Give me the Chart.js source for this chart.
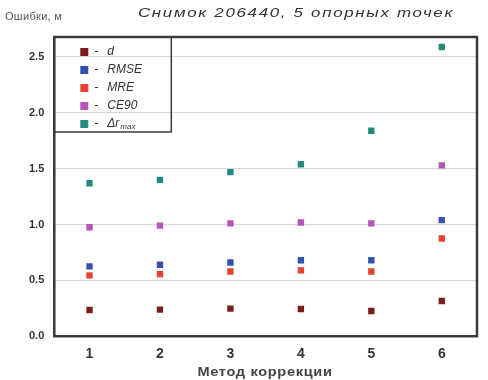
<!DOCTYPE html>
<html>
<head>
<meta charset="utf-8">
<script src="https://cdn.jsdelivr.net/npm/chart.js@4"></script>
<style>
  html, body { margin: 0; padding: 0; background: #fff; }
  canvas { display: block; }
</style>
</head>
<body>
<canvas id="errors" width="488" height="380"></canvas>
<script>
const methods = ['1', '2', '3', '4', '5', '6'];
const seriesNames = ['d', 'RMSE', 'MRE', 'CE90', 'Δr_max'];
const dValues = [0.235, 0.238, 0.247, 0.244, 0.226, 0.315];
const rmseValues = [0.625, 0.64, 0.66, 0.68, 0.68, 1.04];
const mreValues = [0.545, 0.556, 0.58, 0.59, 0.58, 0.875];
const ce90Values = [0.976, 0.99, 1.01, 1.018, 1.01, 1.53];
const drMaxValues = [1.37, 1.40, 1.47, 1.54, 1.84, 2.59];
const yTicks = [0, 0.5, 1.0, 1.5, 2.0, 2.5];
const colors = ['#7a1c1c', '#3551b0', '#e4432f', '#b456b8', '#228a7e'];

const allValues = [dValues, rmseValues, mreValues, ce90Values, drMaxValues];

// draws text stretched horizontally around its centre
function wideText(ctx, text, cx, cy, sx) {
  ctx.save();
  ctx.translate(cx, cy);
  ctx.scale(sx, 1);
  ctx.textAlign = 'center';
  ctx.fillText(text, 0, 0);
  ctx.restore();
}

// frame, titles and the legend box inside the plot
const decorations = {
  id: 'decorations',
  afterDraw(chart) {
    const ctx = chart.ctx;
    const a = chart.chartArea;
    ctx.save();
    ctx.strokeStyle = '#3a3a3a';
    ctx.lineWidth = 2.5;
    ctx.strokeRect(a.left, a.top, a.right - a.left, a.bottom - a.top);

    ctx.fillStyle = '#333';
    ctx.textBaseline = 'middle';
    ctx.font = 'italic 13px "Liberation Sans", Arial, sans-serif';
    ctx.letterSpacing = '1.3px';
    wideText(ctx, 'Снимок 206440, 5 опорных точек', 296, 13, 1.3);

    ctx.font = 'bold 13px "Liberation Sans", Arial, sans-serif';
    ctx.letterSpacing = '0.6px';
    ctx.fillStyle = '#444';
    wideText(ctx, 'Метод коррекции', 265, 372, 1.12);

    ctx.textAlign = 'left';
    ctx.font = '11px "Liberation Sans", Arial, sans-serif';
    ctx.letterSpacing = '0.3px';
    ctx.fillStyle = '#555';
    ctx.fillText('Ошибки, м', 5, 17);

    // legend
    ctx.letterSpacing = '0px';
    ctx.strokeStyle = '#3a3a3a';
    ctx.lineWidth = 1.5;
    ctx.strokeRect(a.left, a.top, 117, 95);
    chart.data.datasets.forEach((ds, i) => {
      const y = a.top + 15 + i * 18;
      ctx.fillStyle = ds.backgroundColor;
      ctx.fillRect(a.left + 26, y - 4, 8, 8);
      ctx.fillStyle = '#333';
      ctx.font = 'italic 12px "Liberation Sans", Arial, sans-serif';
      ctx.fillText('-', a.left + 40, y);
      const parts = ds.label.split('_');
      ctx.fillText(parts[0], a.left + 53, y);
      if (parts[1]) {
        const w = ctx.measureText(parts[0]).width;
        ctx.font = 'italic 8px "Liberation Sans", Arial, sans-serif';
        ctx.fillText(parts[1], a.left + 54 + w, y + 3);
      }
    });
    ctx.restore();
  }
};

new Chart(document.getElementById('errors').getContext('2d'), {
  type: 'line',
  data: {
    labels: methods,
    datasets: seriesNames.map((name, i) => ({
      label: name,
      data: allValues[i],
      showLine: false,
      pointStyle: 'rect',
      pointRadius: 4.5,
      pointBorderWidth: 0,
      backgroundColor: colors[i],
      borderColor: colors[i]
    }))
  },
  plugins: [decorations],
  options: {
    responsive: false,
    animation: false,
    layout: { padding: { left: 19, right: 11, top: 37, bottom: 7 } },
    plugins: {
      legend: { display: false },
      title: { display: false },
      tooltip: { enabled: false }
    },
    scales: {
      x: {
        offset: true,
        grid: { display: false, drawTicks: false },
        border: { display: false },
        ticks: {
          padding: 10,
          color: '#333',
          font: { family: '"Liberation Sans", Arial, sans-serif', size: 14, weight: 'bold' }
        }
      },
      y: {
        min: 0,
        max: 2.68,
        afterBuildTicks(scale) {
          scale.ticks = yTicks.map(v => ({ value: v }));
        },
        grid: { color: '#d8d8d8', lineWidth: 1.2, drawTicks: false },
        border: { display: false },
        ticks: {
          padding: 10,
          color: '#333',
          font: { family: '"Liberation Sans", Arial, sans-serif', size: 11, weight: 'bold' },
          callback: v => v.toFixed(1)
        }
      }
    }
  }
});
</script>
</body>
</html>
